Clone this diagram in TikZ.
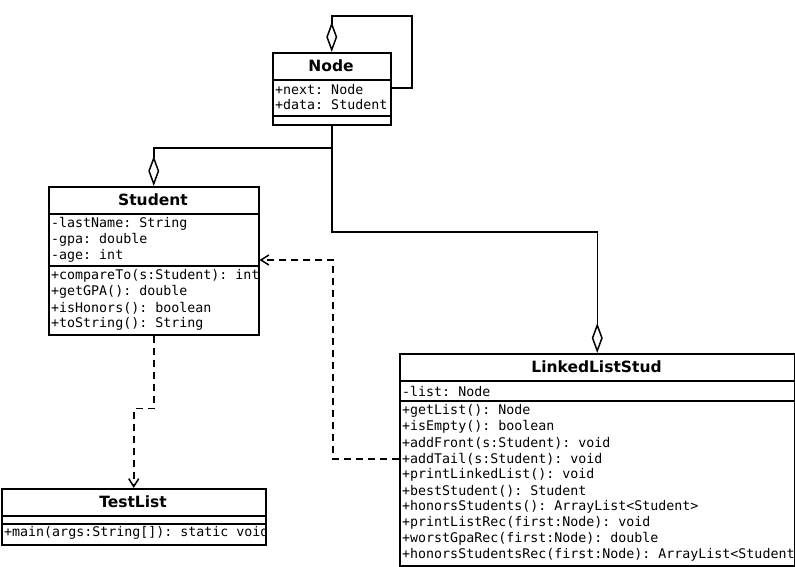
\documentclass[tikz,border=0pt]{standalone}
\usepackage{fontspec}
\setmainfont{DejaVu Sans}
\setmonofont{DejaVu Sans Mono}
\usetikzlibrary{arrows.meta,positioning}
\tikzset{
  classbox/.style={draw,line width=1.5pt,anchor=north west,inner sep=0pt},
  classname/.style={font=\fontsize{15.5pt}{18pt}\selectfont\bfseries,inner sep=0pt},
  member/.style={font=\fontsize{13.3pt}{16pt}\selectfont\ttfamily,anchor=west,inner sep=0pt},
  sep/.style={line width=1.5pt},
  agg/.style={line width=1.5pt,{Diamond[open,length=30pt,width=11pt]}-},
  dep/.style={line width=1.5pt,dash pattern=on 7pt off 5pt,-{Straight Barb[length=8pt,width=10pt]}},
}

\begin{document}
\begin{tikzpicture}[x=1pt,y=-1pt]%
\useasboundingbox (0,0) rectangle (795,566);
%%CLASSES
\node[classbox,minimum width=118pt,minimum height=72pt] (node) at (272,52) {};%%
\node[classname] (node-name) at (331,66) {Node};%%
\draw[sep] (node.west |- 0,80) -- (node.east |- 0,80) (node.west |- 0,116) -- (node.east |- 0,116);%%
\node[member] (node-a1) at (275,90) {+next: Node};%%
\node[member] (node-a2) at (275,105) {+data: Student};%%

\node[classbox,minimum width=210pt,minimum height=148pt] (student) at (48,186) {};%%
\node[classname] (student-name) at (153,200) {Student};%%
\draw[sep] (student.west |- 0,214) -- (student.east |- 0,214) (student.west |- 0,266) -- (student.east |- 0,266);%%
\begin{scope}
\clip (student.south west) rectangle (student.north east);
\node[member] (student-a1) at (51,224) {-lastName: String};%%
\node[member] (student-a2) at (51,240) {-gpa: double};%%
\node[member] (student-a3) at (51,256) {-age: int};%%
\node[member] (student-m1) at (51,276) {+compareTo(s:Student): int};%%
\node[member] (student-m2) at (51,292) {+getGPA(): double};%%
\node[member] (student-m3) at (51,308) {+isHonors(): boolean};%%
\node[member] (student-m4) at (51,324) {+toString(): String};%%
\end{scope}

\node[classbox,minimum width=395pt,minimum height=212pt] (lls) at (399,353) {};%%
\node[classname] (lls-name) at (596.5,367) {LinkedListStud};%%
\draw[sep] (lls.west |- 0,381) -- (lls.east |- 0,381) (lls.west |- 0,401) -- (lls.east |- 0,401);%%
\begin{scope}
\clip (lls.south west) rectangle (lls.north east);
\node[member] (lls-a1) at (402,391) {-list: Node};%%
\node[member] (lls-m1) at (402,411) {+getList(): Node};%%
\node[member] (lls-m2) at (402,427) {+isEmpty(): boolean};%%
\node[member] (lls-m3) at (402,443) {+addFront(s:Student): void};%%
\node[member] (lls-m4) at (402,459) {+addTail(s:Student): void};%%
\node[member] (lls-m5) at (402,475) {+printLinkedList(): void};%%
\node[member] (lls-m6) at (402,491) {+bestStudent(): Student};%%
\node[member] (lls-m7) at (402,507) {+honorsStudents(): ArrayList<Student>};%%
\node[member] (lls-m8) at (402,523) {+printListRec(first:Node): void};%%
\node[member] (lls-m9) at (402,539) {+worstGpaRec(first:Node): double};%%
\node[member] (lls-m10) at (402,555) {+honorsStudentsRec(first:Node): ArrayList<Student>};%%
\end{scope}

\node[classbox,minimum width=264pt,minimum height=56pt] (test) at (1,488) {};%%
\node[classname] (test-name) at (133,502) {TestList};%%
\draw[sep] (test.west |- 0,516) -- (test.east |- 0,516) (test.west |- 0,524) -- (test.east |- 0,524);%%
\begin{scope}
\clip (test.south west) rectangle (test.north east);
\node[member] (test-m1) at (4,533) {+main(args:String[]): static void};%%
\end{scope}

%%RELATIONS
\draw[agg] (node.north) -- ++(0,-36) -- (412,16) |- (node.east |- 0,88);%%
\draw[agg] (student.north) -- ++(0,-38) -| (node.south);%%
\draw[agg] (lls.north) -- ++(0,-121) -| (node.south);%%
\draw[dep] (lls.west |- 0,459) -| (333,260) -- (student.east |- 0,260);%%
\draw[dep] (student.south) -- ++(0,73) -| (test.north);%%
\end{tikzpicture}
\end{document}
